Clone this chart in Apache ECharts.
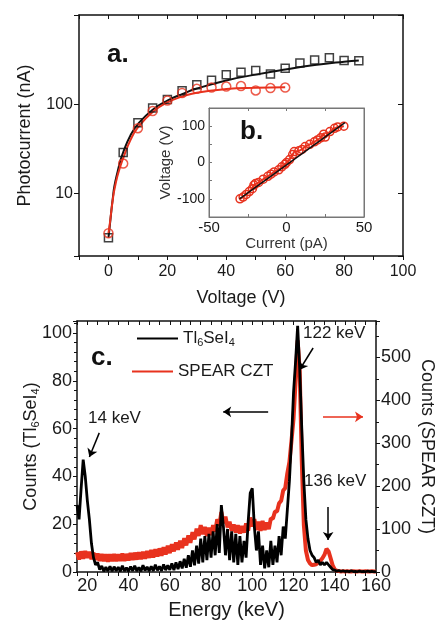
<!DOCTYPE html>
<html>
<head>
<meta charset="utf-8">
<script src="https://cdn.jsdelivr.net/npm/echarts@6/dist/echarts.min.js"></script>
<style>
    html, body { margin: 0; background: #fff; }
    #chart { width: 435px; height: 625px; }
</style>
</head>
<body>
<div id="chart"></div>
<script>
    // panel a: photocurrent vs bias
    var voltPts = [0, 5, 10, 15, 20, 25, 30, 35, 40, 45, 50, 55, 60, 65, 70, 75, 80, 85];
    var tlCurrent = [3.2, 28.8, 62, 91, 113, 142, 166, 186, 214, 228, 239, 219, 253, 290, 313, 333, 310, 308];
    var czCurrent = [3.6, 21.7, 54, 84, 110, 134, 149, 154, 158, 160, 143, 152, 154];
    var fitVolt = [0, 0.5, 1, 1.5, 2, 3, 4, 5, 7.5, 10, 15, 20, 25, 30, 40, 50, 60, 70, 80, 85];
    var tlFit = [3.2, 4.5, 6.5, 9, 12, 17, 23, 29, 45, 60, 87, 110, 130, 150, 185, 215, 245, 275, 300, 310];
    var czFit = [3.6, 4.7, 6.5, 8.7, 11, 15.5, 20, 25, 40, 55, 82, 105, 122, 135, 148, 153, 155];

    // inset b: I-V
    var insetI = [-30, -28, -26, -24, -22, -21, -20, -18, -15, -12, -10, -8, -5, -3, -1, 0, 2, 4, 5, 8, 10, 12, 15, 18, 20, 22, 24, 25, 28, 31, 33, 37];
    var insetV = [-100, -95, -88, -80, -72, -62, -58, -55, -46, -38, -32, -26, -20, -12, -5, 0, 8, 22, 30, 32, 36, 44, 50, 57, 62, 68, 78, 70, 85, 94, 98, 100];
    var insetFitI = [-30.3, 37.7];
    var insetFitV = [-100, 110];

    // panel c: spectra, 1 keV channels starting at 15 keV
    var eStart = 15;
    var tlCounts = [
        28, 22, 35, 47, 40, 30, 22, 12, 6, 3,
        4, 1, 2.5, 0.3, 2, 0.4, 2.4, 0.3, 2.2, 0.5,
        2, 0.3, 2.6, 0.4, 1.8, 0.3, 2.3, 0.5, 2.6, 0.4,
        1.9, 0.3, 2.8, 0.6, 2.1, 0.4, 2.4, 0.5, 3, 0.7,
        2.4, 0.5, 3.2, 0.8, 2.8, 0.9, 3.6, 0.8, 4, 1.2,
        4.5, 1.5, 5.5, 1.8, 7, 2.2, 9, 2.8, 11, 3.5,
        14, 4, 15, 5, 16, 6, 17, 7, 20, 8,
        28, 19, 7, 18, 5, 17, 4, 16, 3, 15,
        4, 13, 6, 21, 33, 35, 19, 9, 17, 3,
        11, 1.5, 9, 2, 13, 3, 11, 4, 15, 7,
        19, 14, 26, 38, 55, 75, 88, 103, 85, 60,
        38, 22, 14, 9, 7, 6, 4, 5, 3, 4,
        3, 4, 3, 2, 1, 0.8, 0.3, 0.6, 0.2, 0.5,
        0.2, 0.4, 0.1, 0.5, 0.2, 0.3, 0.1, 0.4, 0.2, 0.3,
        0.1, 0.4, 0.2, 0.3, 0.1, 0.2
    ];
    var czCounts = [
        46, 29, 48, 31, 49, 33, 47, 30, 45, 28,
        43, 26, 42, 25, 41, 24, 41, 25, 42, 25,
        41, 26, 43, 26, 42, 27, 44, 28, 45, 29,
        46, 30, 47, 31, 49, 33, 51, 34, 53, 36,
        55, 38, 58, 41, 61, 44, 65, 48, 69, 52,
        73, 56, 79, 62, 85, 68, 93, 76, 101, 84,
        109, 88, 105, 84, 103, 86, 109, 94, 123, 108,
        140, 114, 129, 104, 117, 96, 111, 92, 109, 90,
        107, 92, 113, 96, 127, 106, 123, 98, 117, 96,
        119, 98, 115, 100, 125, 124, 141, 141, 160, 166,
        190, 196, 230, 256, 305, 357, 443, 540, 470, 260,
        110, 50, 28, 20, 16, 17, 18, 22, 26, 32,
        40, 54, 48, 32, 15, 6, 3, 2, 1, 2,
        1, 2, 1, 1, 2, 1, 1, 2, 1, 1,
        2, 1, 1, 2, 1, 1
    ];

    function pairs(x, y) {
        var data = [];
        for (var i = 0; i < y.length; i++) {
            data.push([x[i], y[i]]);
        }
        return data
    }
    function channels(y) {
        var data = [];
        for (var i = 0; i < y.length; i++) {
            data.push([eStart + i, y[i]]);
        }
        return data
    }

    var font = 'Liberation Sans, Arial, sans-serif';
    var ink = '#1a1a1a';
    var red = '#e8321e';
    var sub = { n: { fontSize: 18, fontFamily: font, color: ink }, s: { fontSize: 11, fontFamily: font, color: ink, padding: [9, 0, 0, 0] } };

    function frameLine(c, w) {
        return { show: true, onZero: false, lineStyle: { color: c, width: w } }
    }
    function mirror(type, grid, pos, min, max, interval, c) {
        return {
            type: type, gridIndex: grid, position: pos, min: min, max: max, interval: interval,
            axisLine: frameLine(c, 1.5),
            axisTick: { show: true, inside: true, length: 4, lineStyle: { color: c } },
            axisLabel: { show: false }, splitLine: { show: false }
        }
    }

    var option = {
        animation: false,
        textStyle: { fontFamily: font },
        grid: [
            { left: 79, top: 15, right: 32, bottom: 369, outerBoundsMode: 'none' },
            { left: 209, top: 108, width: 155, height: 109, show: true, backgroundColor: '#fff', borderColor: '#777', borderWidth: 1, z: 3, outerBoundsMode: 'none' },
            { left: 77, top: 321, right: 59, bottom: 53, outerBoundsMode: 'none' }
        ],
        xAxis: [
            {
                type: 'value', gridIndex: 0, min: -10, max: 100, interval: 10,
                name: 'Voltage (V)', nameLocation: 'middle', nameGap: 33,
                nameTextStyle: { fontSize: 18, color: ink, fontFamily: font },
                axisLine: frameLine('#111', 1.5),
                axisTick: { length: 4, lineStyle: { color: '#111' } },
                axisLabel: { fontSize: 16, color: ink, margin: 8, formatter: function (v) { return (v >= 0 && v % 20 === 0) ? v : '' } },
                splitLine: { show: false }
            },
            mirror('value', 0, 'top', -10, 100, 10, '#111'),
            {
                type: 'value', gridIndex: 1, min: -50, max: 50, interval: 25,
                name: 'Current (pA)', nameLocation: 'middle', nameGap: 17,
                nameTextStyle: { fontSize: 15, color: '#333', fontFamily: font },
                axisLine: frameLine('#777', 1),
                axisTick: { inside: true, length: 3, lineStyle: { color: '#777' } },
                axisLabel: { fontSize: 15, color: ink, margin: 3, formatter: function (v) { return v % 50 === 0 ? v : '' } },
                splitLine: { show: false }, z: 4
            },
            {
                type: 'value', gridIndex: 1, position: 'top', min: -50, max: 50, interval: 25,
                axisLine: frameLine('#777', 1), axisTick: { inside: true, length: 3, lineStyle: { color: '#777' } },
                axisLabel: { show: false }, splitLine: { show: false }, z: 4
            },
            {
                type: 'value', gridIndex: 2, min: 15, max: 160, interval: 5,
                name: 'Energy (keV)', nameLocation: 'middle', nameGap: 28,
                nameTextStyle: { fontSize: 20, color: ink, fontFamily: font },
                axisLine: frameLine('#111', 1.5),
                axisTick: { length: 4, lineStyle: { color: '#111' } },
                axisLabel: { fontSize: 18, color: ink, margin: 5, formatter: function (v) { return v % 20 === 0 ? v : '' } },
                splitLine: { show: false }
            },
            mirror('value', 2, 'top', 15, 160, 5, '#111')
        ],
        yAxis: [
            {
                type: 'log', gridIndex: 0, min: 2, max: 1000, logBase: 10,
                name: 'Photocurrent (nA)', nameLocation: 'middle', nameGap: 45,
                nameTextStyle: { fontSize: 18, color: ink, fontFamily: font },
                axisLine: frameLine('#111', 1.5),
                axisTick: { length: 5, lineStyle: { color: '#111' } },
                axisLabel: { fontSize: 16, color: ink, margin: 6, formatter: function (v) { return (v === 10 || v === 100) ? v : '' } },
                splitLine: { show: false }
            },
            {
                type: 'log', gridIndex: 0, position: 'right', min: 2, max: 1000, logBase: 10,
                axisLine: frameLine('#111', 1.5),
                axisTick: { inside: true, length: 5, lineStyle: { color: '#111' } },
                axisLabel: { show: false }, splitLine: { show: false }
            },
            {
                type: 'value', gridIndex: 1, min: -150, max: 150, interval: 50,
                name: 'Voltage (V)', nameLocation: 'middle', nameGap: 33,
                nameTextStyle: { fontSize: 15, color: '#333', fontFamily: font },
                axisLine: frameLine('#777', 1),
                axisTick: { inside: true, length: 3, lineStyle: { color: '#777' } },
                axisLabel: { fontSize: 14, color: ink, margin: 4, formatter: function (v) { return v % 100 === 0 ? v : '' } },
                splitLine: { show: false }, z: 4
            },
            {
                type: 'value', gridIndex: 1, position: 'right', min: -150, max: 150, interval: 50,
                axisLine: frameLine('#777', 1), axisTick: { show: false },
                axisLabel: { show: false }, splitLine: { show: false }, z: 4
            },
            {
                type: 'value', gridIndex: 2, min: 0, max: 105, interval: 20,
                name: '{n|Counts (Tl}{s|6}{n|SeI}{s|4}{n|)}', nameLocation: 'middle', nameGap: 36, nameMoveOverlap: false,
                nameTextStyle: { rich: sub },
                axisLine: frameLine('#111', 1.5),
                axisTick: { length: 4, lineStyle: { color: '#111' } },
                minorTick: { show: true, splitNumber: 5, length: 3, lineStyle: { color: '#111' } },
                axisLabel: { fontSize: 18, color: ink, margin: 5, formatter: function (v) { return v % 20 === 0 ? v : '' } },
                splitLine: { show: false }
            },
            {
                type: 'value', gridIndex: 2, position: 'right', min: 0, max: 585, interval: 100,
                name: 'Counts (SPEAR CZT)', nameLocation: 'middle', nameGap: 42, nameRotate: -90, nameMoveOverlap: false,
                nameTextStyle: { fontSize: 18, color: ink, fontFamily: font },
                axisLine: frameLine('#111', 1.5),
                axisTick: { length: 4, lineStyle: { color: '#111' } },
                minorTick: { show: true, splitNumber: 2, length: 3, lineStyle: { color: '#111' } },
                axisLabel: { fontSize: 18, color: ink, margin: 5, formatter: function (v) { return v % 100 === 0 ? v : '' } },
                splitLine: { show: false }
            }
        ],
        legend: [
            {
                data: ['Tl6SeI4'], left: 137, top: 330, padding: 0, icon: 'rect', itemWidth: 41, itemHeight: 2,
                formatter: function () { return '{n|Tl}{s|6}{n|SeI}{s|4}' },
                textStyle: { rich: { n: { fontSize: 17, fontFamily: font, color: ink }, s: { fontSize: 11, fontFamily: font, color: ink, padding: [9, 0, 0, 0] } } }
            },
            {
                data: ['SPEAR CZT'], left: 132, top: 363, padding: 0, icon: 'rect', itemWidth: 41, itemHeight: 2,
                textStyle: { fontSize: 17, color: ink, fontFamily: font }
            }
        ],
        series: [
            {
                name: 'tlFit', type: 'line', xAxisIndex: 0, yAxisIndex: 0, smooth: true, symbol: 'none',
                lineStyle: { color: '#111', width: 2 }, data: pairs(fitVolt, tlFit)
            },
            {
                name: 'czFit', type: 'line', xAxisIndex: 0, yAxisIndex: 0, smooth: true, symbol: 'none',
                lineStyle: { color: red, width: 2 }, data: pairs(fitVolt, czFit)
            },
            {
                name: 'tlPts', type: 'scatter', xAxisIndex: 0, yAxisIndex: 0, symbol: 'rect', symbolSize: 8,
                itemStyle: { color: 'rgba(255,255,255,0)', borderColor: '#111', borderWidth: 1.5 },
                data: pairs(voltPts, tlCurrent), z: 5
            },
            {
                name: 'czPts', type: 'scatter', xAxisIndex: 0, yAxisIndex: 0, symbol: 'circle', symbolSize: 9,
                itemStyle: { color: 'rgba(255,255,255,0)', borderColor: red, borderWidth: 1.5 },
                data: pairs(voltPts, czCurrent), z: 5
            },
            {
                name: 'insetPts', type: 'line', xAxisIndex: 2, yAxisIndex: 2, symbol: 'circle', symbolSize: 8,
                lineStyle: { color: red, width: 2 },
                itemStyle: { color: 'rgba(255,255,255,0)', borderColor: red, borderWidth: 1.5 },
                data: pairs(insetI, insetV), z: 5
            },
            {
                name: 'insetFit', type: 'line', xAxisIndex: 2, yAxisIndex: 2, symbol: 'none',
                lineStyle: { color: '#111', width: 1.5 }, data: pairs(insetFitI, insetFitV), z: 6
            },
            {
                name: 'SPEAR CZT', type: 'line', xAxisIndex: 4, yAxisIndex: 5, symbol: 'none',
                lineStyle: { color: red, width: 4 }, itemStyle: { color: red },
                data: channels(czCounts), z: 2
            },
            {
                name: 'Tl6SeI4', type: 'line', xAxisIndex: 4, yAxisIndex: 4, symbol: 'none',
                lineStyle: { color: '#000', width: 2.8 }, itemStyle: { color: '#000' },
                data: channels(tlCounts), z: 3,
                markLine: {
                    silent: true, symbol: ['none', 'arrow'], symbolSize: 8,
                    label: { show: false },
                    lineStyle: { color: '#000', width: 1.5, type: 'solid' },
                    data: [
                        [{ coord: [129.5, 93.7] }, { coord: [122.9, 84.5] }],
                        [{ coord: [25.8, 58.2] }, { coord: [21, 48.1] }],
                        [{ coord: [136.8, 27.2] }, { coord: [136.8, 13.4] }],
                        [{ coord: [107.7, 67] }, { coord: [85.9, 67] }],
                        [{ coord: [134.3, 64.9], lineStyle: { color: red } }, { coord: [153.7, 64.9] }]
                    ]
                }
            }
        ],
        graphic: [
            { type: 'text', left: 107, top: 42, style: { text: 'a.', font: 'bold 26px ' + font, fill: '#111' } },
            { type: 'text', left: 240, top: 119, z: 10, style: { text: 'b.', font: 'bold 26px ' + font, fill: '#111' } },
            { type: 'text', left: 91, top: 345, style: { text: 'c.', font: 'bold 26px ' + font, fill: '#111' } },
            { type: 'text', left: 303, top: 325, style: { text: '122 keV', font: '17px ' + font, fill: ink } },
            { type: 'text', left: 88, top: 410, style: { text: '14 keV', font: '17px ' + font, fill: ink } },
            { type: 'text', left: 304, top: 473, style: { text: '136 keV', font: '17px ' + font, fill: ink } }
        ]
    };

    echarts.init(document.getElementById('chart')).setOption(option);
</script>
</body>
</html>
